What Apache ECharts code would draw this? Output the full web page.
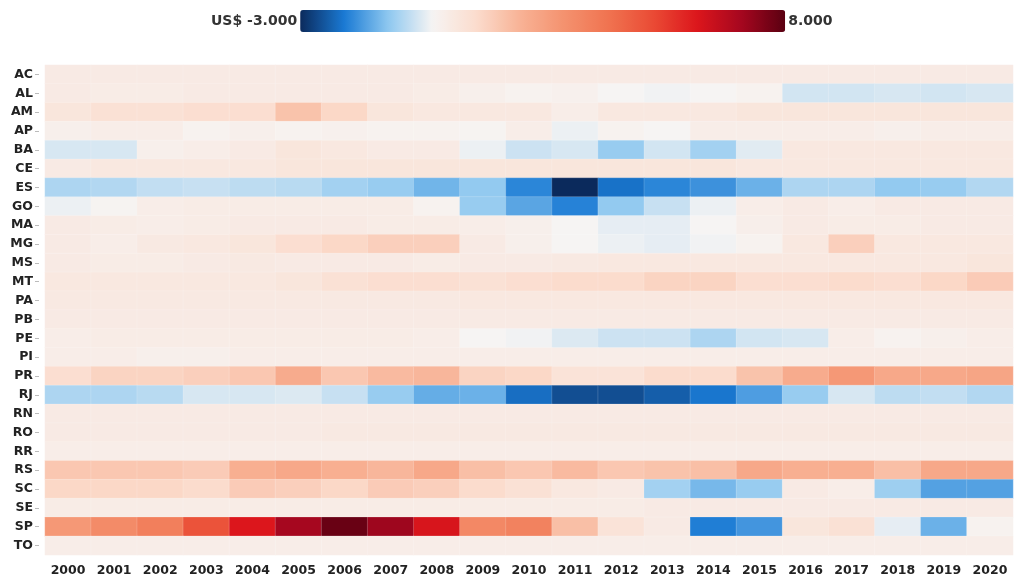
<!DOCTYPE html>
<html>
<head>
<meta charset="utf-8">
<script src="https://cdn.jsdelivr.net/npm/echarts@6/dist/echarts.min.js"></script>
<style>
  html, body { margin: 0; padding: 0; background: #fff; }
  #chart { width: 1015px; height: 577px; }
</style>
</head>
<body>
<div id="chart"></div>
<script>
const years = ["2000","2001","2002","2003","2004","2005","2006","2007","2008","2009","2010",
  "2011","2012","2013","2014","2015","2016","2017","2018","2019","2020"];
const states = ["AC","AL","AM","AP","BA","CE","ES","GO","MA","MG","MS","MT","PA",
  "PB","PE","PI","PR","RJ","RN","RO","RR","RS","SC","SE","SP","TO"];

// values per state, 2000 -> 2020 (US$)
const AC = [0.4,0.4,0.4,0.4,0.4,0.4,0.4,0.4,0.4,0.4,0.4,0.4,0.4,0.4,0.4,0.4,0.4,0.4,0.4,0.4,0.4];
const AL = [0.4,0.35,0.35,0.4,0.4,0.4,0.4,0.4,0.35,0.2,0.1,0.15,0.0,-0.05,0.0,0.1,-0.35,-0.35,-0.3,-0.35,-0.3];
const AM = [0.6,0.8,0.8,0.9,0.9,1.6,1.1,0.6,0.5,0.5,0.5,0.3,0.5,0.5,0.5,0.6,0.6,0.6,0.6,0.6,0.6];
const AP = [0.2,0.3,0.3,0.1,0.2,0.1,0.15,0.1,0.1,0.05,0.3,-0.1,0.1,0.0,0.3,0.3,0.3,0.3,0.2,0.3,0.3];
const BA = [-0.3,-0.3,0.2,0.3,0.4,0.6,0.5,0.4,0.4,-0.1,-0.4,-0.3,-0.9,-0.35,-0.8,-0.2,0.5,0.5,0.5,0.5,0.5];
const CE = [0.4,0.5,0.5,0.5,0.5,0.6,0.6,0.6,0.6,0.6,0.6,0.6,0.6,0.6,0.6,0.5,0.5,0.5,0.5,0.5,0.5];
const ES = [-0.7,-0.65,-0.5,-0.45,-0.55,-0.6,-0.8,-0.9,-1.25,-0.95,-1.85,-3.0,-2.1,-1.85,-1.7,-1.3,-0.7,-0.7,-0.95,-0.9,-0.65];
const GO = [-0.1,0.05,0.3,0.35,0.35,0.35,0.35,0.35,0.1,-0.9,-1.45,-1.9,-0.95,-0.45,-0.1,0.3,0.4,0.3,0.4,0.4,0.4];
const MA = [0.4,0.35,0.3,0.35,0.4,0.4,0.4,0.35,0.35,0.3,0.2,0.0,-0.15,-0.15,0.0,0.25,0.4,0.35,0.35,0.4,0.4];
const MG = [0.4,0.3,0.45,0.5,0.6,0.9,1.1,1.3,1.3,0.4,0.2,0.0,-0.1,-0.15,-0.05,0.1,0.5,1.3,0.5,0.5,0.5];
const MS = [0.4,0.35,0.35,0.4,0.45,0.4,0.4,0.4,0.35,0.4,0.4,0.45,0.5,0.5,0.5,0.5,0.5,0.5,0.5,0.5,0.6];
const MT = [0.5,0.5,0.5,0.5,0.5,0.6,0.8,0.9,0.9,0.8,0.9,1.0,1.0,1.2,1.2,0.9,0.9,1.0,0.9,1.1,1.4];
const PA = [0.45,0.45,0.45,0.45,0.45,0.45,0.45,0.45,0.45,0.5,0.5,0.5,0.5,0.5,0.5,0.5,0.5,0.5,0.5,0.5,0.5];
const PB = [0.4,0.4,0.4,0.4,0.4,0.4,0.4,0.4,0.4,0.4,0.4,0.4,0.4,0.4,0.4,0.4,0.4,0.4,0.4,0.4,0.4];
const PE = [0.3,0.35,0.35,0.35,0.35,0.35,0.35,0.35,0.3,0.0,-0.05,-0.25,-0.4,-0.4,-0.7,-0.35,-0.3,0.3,0.1,0.2,0.3];
const PI = [0.3,0.3,0.2,0.2,0.3,0.3,0.3,0.3,0.3,0.3,0.3,0.3,0.3,0.3,0.3,0.3,0.3,0.3,0.3,0.3,0.3];
const PR = [0.9,1.2,1.2,1.3,1.5,2.2,1.5,1.8,1.9,1.2,1.1,0.7,0.7,1.0,1.0,1.6,2.2,2.8,2.3,2.3,2.4];
const RJ = [-0.7,-0.7,-0.6,-0.3,-0.3,-0.25,-0.45,-0.9,-1.35,-1.3,-2.15,-2.55,-2.55,-2.35,-2.05,-1.55,-0.9,-0.3,-0.55,-0.5,-0.65];
const RN = [0.4,0.4,0.4,0.4,0.4,0.4,0.4,0.4,0.4,0.4,0.4,0.4,0.4,0.4,0.4,0.4,0.4,0.4,0.4,0.4,0.4];
const RO = [0.4,0.4,0.4,0.4,0.4,0.4,0.45,0.45,0.45,0.45,0.45,0.45,0.45,0.45,0.45,0.45,0.45,0.45,0.45,0.45,0.45];
const RR = [0.3,0.3,0.3,0.3,0.3,0.3,0.3,0.3,0.3,0.3,0.3,0.3,0.3,0.3,0.3,0.3,0.3,0.3,0.3,0.3,0.3];
const RS = [1.5,1.5,1.5,1.4,2.1,2.3,2.1,1.9,2.3,1.7,1.5,1.8,1.5,1.6,1.7,2.3,2.1,2.1,1.7,2.3,2.3];
const SC = [1.1,1.1,1.1,1.0,1.4,1.3,1.1,1.4,1.3,1.0,0.8,0.5,0.4,-0.8,-1.2,-0.9,0.4,0.3,-0.85,-1.5,-1.5];
const SE = [0.35,0.35,0.35,0.35,0.35,0.35,0.35,0.35,0.35,0.35,0.35,0.35,0.35,0.4,0.4,0.4,0.4,0.4,0.4,0.4,0.4];
const SP = [2.8,3.2,3.6,4.8,6.0,7.0,7.8,7.1,6.1,3.3,3.5,1.7,0.7,0.4,-1.95,-1.65,0.6,0.8,-0.15,-1.3,0.1];
const TO = [0.3,0.3,0.3,0.3,0.3,0.3,0.3,0.3,0.3,0.3,0.3,0.3,0.3,0.3,0.3,0.3,0.3,0.3,0.3,0.3,0.3];

const rows = [AC,AL,AM,AP,BA,CE,ES,GO,MA,MG,MS,MT,PA,PB,PE,PI,PR,RJ,RN,RO,RR,RS,SC,SE,SP,TO];

var data = [];
rows.forEach(function (row, y) {
  row.forEach(function (v, x) {
    data.push([x, y, v]);
  });
});

var chart = echarts.init(document.getElementById("chart"));
var font = "DejaVu Sans";

var option = {
  backgroundColor: "#fff",
  animation: false,
  grid: {
    left: 45,
    right: 2,
    top: 65,
    bottom: 22,
  },
  xAxis: {
    type: "category",
    data: years,
    axisLine: { show: false },
    axisTick: { show: false },
    splitArea: { show: false },
    axisLabel: {
      margin: 9,
      fontFamily: font,
      fontWeight: "bold",
      fontSize: 12.5,
      color: "#222",
      interval: 0,
    },
  },
  yAxis: {
    type: "category",
    data: states,
    inverse: true,
    offset: 6,
    axisLine: { show: false },
    axisTick: {
      show: true,
      length: 4,
      alignWithLabel: true,
      lineStyle: { color: "#bbb" },
    },
    axisLabel: {
      margin: 6,
      fontFamily: font,
      fontWeight: "bold",
      fontSize: 12.5,
      color: "#222",
      interval: 0,
    },
  },
  visualMap: {
    type: "continuous",
    min: -3,
    max: 8,
    calculable: false,
    orient: "horizontal",
    left: 196,
    top: -5,
    itemWidth: 22,
    itemHeight: 485,
    text: ["8.000", "US$ -3.000"],
    textGap: 3,
    textStyle: {
      fontFamily: font,
      fontWeight: "bold",
      fontSize: 14,
      color: "#333",
    },
    inRange: {
      color: [
        "#0b2a5c", "#1a7ad4", "#8ec8f0", "#f6f4f3", "#fbdccd", "#f8b295",
        "#f4916e", "#f07350", "#ea4b35", "#dc161c", "#a6071f", "#5a0011",
      ],
    },
  },
  series: [
    {
      type: "heatmap",
      data: data,
      itemStyle: {
        borderWidth: 0.5,
        borderColor: "rgba(255,255,255,0.35)",
      },
      emphasis: { disabled: true },
    },
  ],
};
chart.setOption(option);
</script>
</body>
</html>
